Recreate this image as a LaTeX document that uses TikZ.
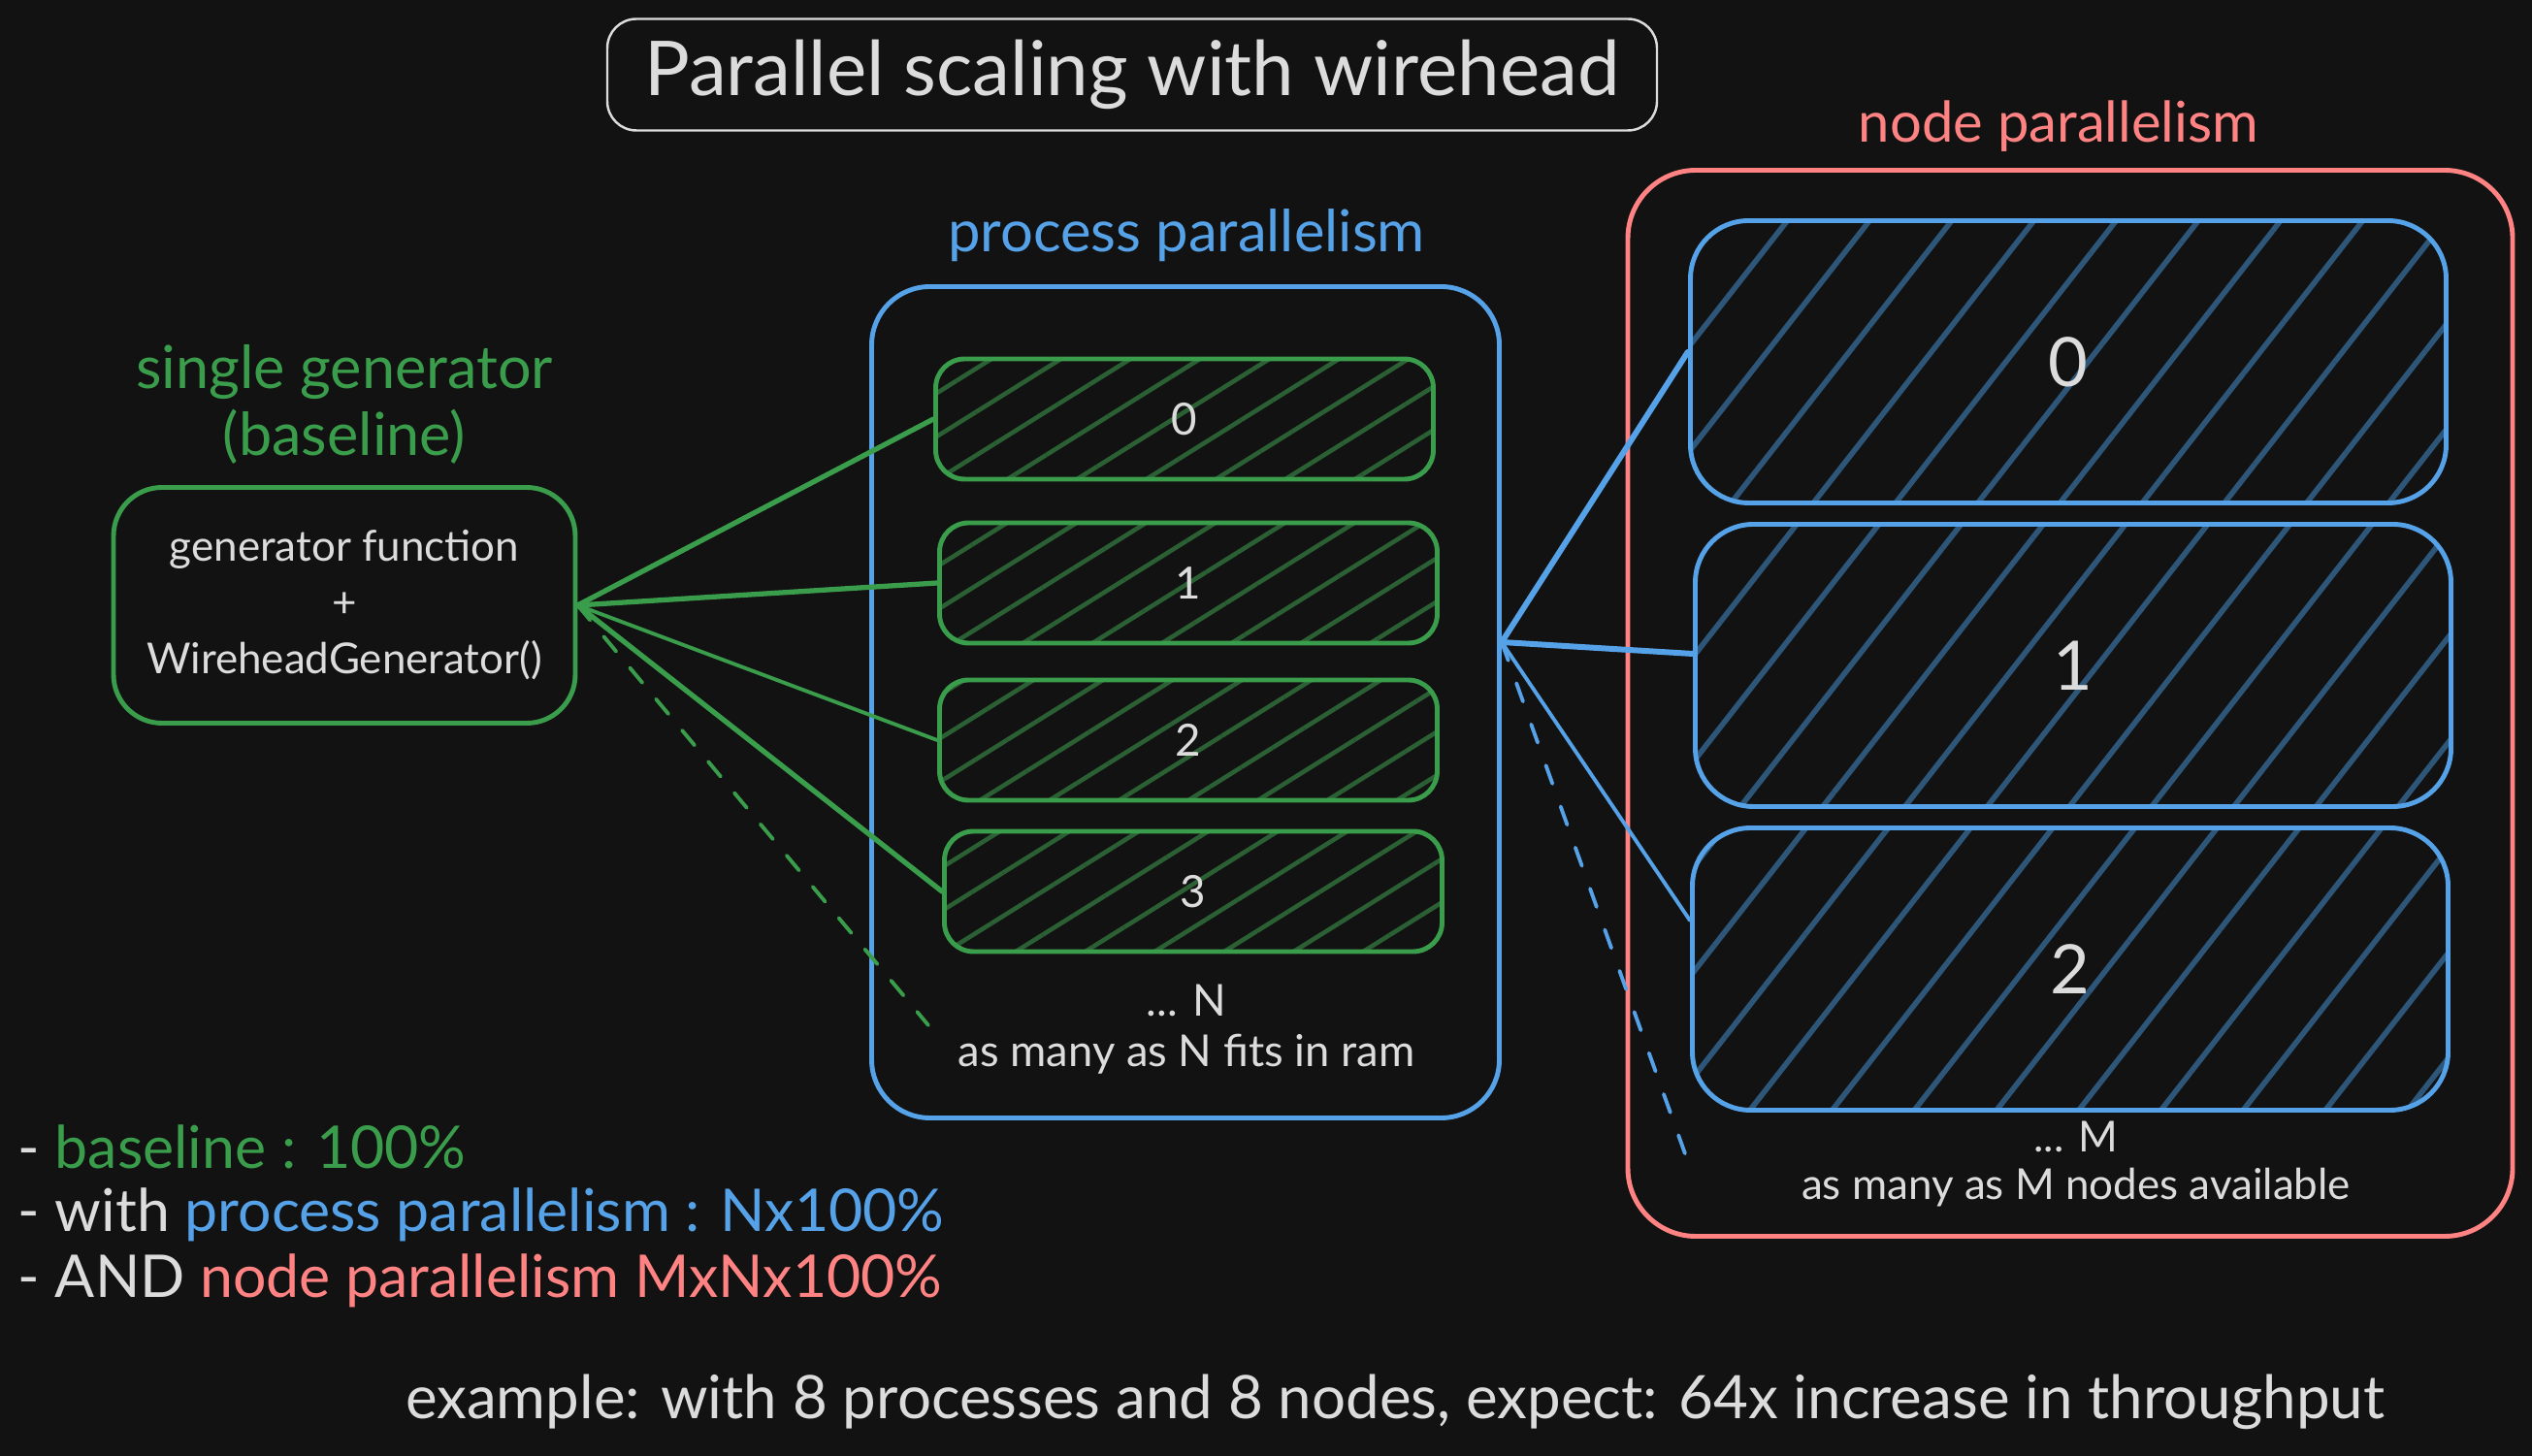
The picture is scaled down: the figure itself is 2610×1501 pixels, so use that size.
\documentclass[tikz,border=0pt]{standalone}
\usepackage{fontspec}
\setmainfont{Lato}
\usetikzlibrary{patterns.meta,positioning}
\definecolor{bg}{HTML}{121212}
\definecolor{ink}{HTML}{DCDCDC}
\definecolor{grn}{HTML}{3A9D4B}
\definecolor{grnhatch}{HTML}{2B5F34}
\definecolor{blu}{HTML}{56A2E8}
\definecolor{bluhatch}{HTML}{2E5678}
\definecolor{rd}{HTML}{FF8383}

\begin{document}
\begin{tikzpicture}[x=0.1mm,y=-0.1mm,
  wire/.style={line width=1.5pt,line cap=round},
  procbox/.style={draw=grn,line width=1.4pt,rounded corners=3mm,
    minimum width=51.3mm,minimum height=12.4mm,text=ink,
    pattern={Lines[angle=32,distance=10.8pt,line width=1.3pt]},pattern color=grnhatch,
    font=\fontsize{13}{15}\selectfont},
  machbox/.style={draw=blu,line width=1.4pt,rounded corners=6mm,
    minimum width=77.9mm,minimum height=29.1mm,text=ink,
    pattern={Lines[angle=52,distance=19pt,line width=1.6pt]},pattern color=bluhatch,
    font=\fontsize{20}{24}\selectfont}]
\fill[bg] (0,0) rectangle (2610,1501);
\useasboundingbox (0,0) rectangle (2610,1501);

\node[draw=ink,line width=0.7pt,rounded corners=3mm,minimum width=108.2mm,minimum height=11.5mm,
  text=ink,font=\fontsize{22.2}{26}\selectfont] (title) at (1167,77) {Parallel scaling with wirehead};

% generator
\node[draw=grn,line width=1.4pt,rounded corners=5mm,minimum width=47.6mm,minimum height=24.3mm,
  text=ink,align=center,font=\fontsize{12.5}{16.5}\selectfont] (gen) at (355,624) {generator function\\+\\WireheadGenerator()};

% processes
\node[draw=blu,line width=1.4pt,rounded corners=6mm,minimum width=64.7mm,minimum height=85.7mm] (proc) at (1222,724) {};
\node[procbox] (p0) at (1221,432) {0};
\node[procbox] (p1) at (1225,601) {1};
\node[procbox] (p2) at (1225,763) {2};
\node[procbox] (p3) at (1230,919) {3};
\coordinate (pN) at (957,1057);

% nodes
\node[draw=rd,line width=1.4pt,rounded corners=7mm,minimum width=91.2mm,minimum height=109.9mm] (cluster) at (2134,725) {};
\node[machbox] (n0) at (2132,373) {0};
\node[machbox] (n1) at (2137,686) {1};
\node[machbox] (n2) at (2134,999) {2};
\coordinate (nM) at (1739,1195);

\begin{scope}[every node/.style={align=center}]
\node[text=grn,font=\fontsize{17.4}{19.5}\selectfont] (genlabel) at (355,417) {single generator\\(baseline)};
\node[text=blu,font=\fontsize{17}{19}\selectfont] (proclabel) at (1223,243) {process parallelism};
\node[text=rd,font=\fontsize{16.5}{19}\selectfont] (clusterlabel) at (2122,130) {node parallelism};
\node[text=ink,font=\fontsize{12.9}{14.8}\selectfont] (pmore) at (1223,1061) {... N\\as many as N fits in ram};
\node[text=ink,font=\fontsize{12.5}{14.2}\selectfont] (nmore) at (2140,1200) {... M\\as many as M nodes available};
\end{scope}

\begin{scope}[every node/.style={anchor=west,inner sep=0pt,text=ink,font=\fontsize{17.3}{20}\selectfont}]
\node (leg1) at (18,1182) {- \textcolor{grn}{baseline : 100\%}};
\node (leg2) at (18,1252) {- with \textcolor{blu}{process parallelism : Nx100\%}};
\node (leg3) at (18,1320) {- AND \textcolor{rd}{node parallelism MxNx100\%}};
\end{scope}
\node[text=ink,font=\fontsize{17.6}{20}\selectfont] (example) at (1438,1445) {example: with 8 processes and 8 nodes, expect: 64x increase in throughput};

\draw[wire,grn] (gen.east) -- (p0.west);
\draw[wire,grn] (gen.east) -- (p1.west);
\draw[wire,grn,line width=1.1pt] (gen.east) -- (p2.west);
\draw[wire,grn] (gen.east) -- (p3.west);
\draw[wire,grn,line width=1.1pt,dash pattern=on 2mm off 2.2mm] (gen.east) -- (pN);
\coordinate (pout) at ([yshift=6.2mm]proc.east);
\draw[wire,blu,line width=1.7pt] (pout) -- ([yshift=1mm]n0.west);
\draw[wire,blu,line width=1.7pt] (pout) -- ([yshift=1.2mm]n1.west);
\draw[wire,blu,line width=1.1pt] (pout) -- ([yshift=5mm]n2.west);
\draw[wire,blu,line width=1.1pt,dash pattern=on 2mm off 2.5mm] (pout) -- (nM);
\end{tikzpicture}
\end{document}
